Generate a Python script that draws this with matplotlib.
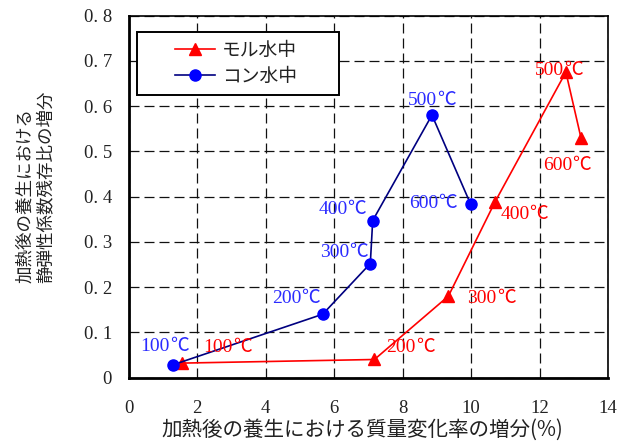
import matplotlib
matplotlib.use("Agg")
import matplotlib.pyplot as plt
from matplotlib.ticker import FixedLocator, FixedFormatter
from matplotlib.offsetbox import TextArea, HPacker, AnnotationBbox
from matplotlib.legend_handler import HandlerLine2D

# --- data -------------------------------------------------------------
temps = ["100℃", "200℃", "300℃", "400℃", "500℃", "600℃"]

# mortar, water-cured
mortar_x = [1.55, 7.18, 9.34, 10.70, 12.77, 13.21]
mortar_y = [0.032, 0.040, 0.180, 0.388, 0.675, 0.530]

# concrete, water-cured
concrete_x = [1.29, 5.67, 7.06, 7.13, 8.86, 9.99]
concrete_y = [0.028, 0.140, 0.252, 0.347, 0.580, 0.383]

series_names = ["モル水中", "コン水中"]

x_ticks = [0, 2, 4, 6, 8, 10, 12, 14]
x_tick_labels = ["0", "2", "4", "6", "8", "10", "12", "14"]
y_ticks = [0, 0.1, 0.2, 0.3, 0.4, 0.5, 0.6, 0.7, 0.8]
y_tick_labels = ["0", "0. 1", "0. 2", "0. 3", "0. 4", "0. 5", "0. 6", "0. 7", "0. 8"]

x_label = "加熱後の養生における質量変化率の増分(%)"
y_label = "加熱後の養生における\n静弾性係数残存比の増分"

# label offsets (points, +y is up) from each marker
mortar_offsets = [(33, 12), (26, 9), (31, -1), (21, -8), (-5, 2), (-10, -19)]
concrete_offsets = [(-6, 14), (-19, 12), (-19, 9), (-22, 9), (0, 11), (-27, 1)]

# --- styles -----------------------------------------------------------
jp_font = ["Noto Sans CJK JP", "DejaVu Sans"]
num_font = ["Liberation Serif", "DejaVu Serif"]
red = "#ff0000"
blue_marker = "#0000ff"
blue_line = "#000080"
blue_text = "#2b2bff"
text_dark = "#222222"

fig = plt.figure(figsize=(6.25, 4.42), dpi=100)
ax = fig.add_axes([128.5 / 625, 1 - 377.6 / 442, (608 - 128.5) / 625, (377.6 - 15.5) / 442])

ax.plot(mortar_x, mortar_y, color=red, lw=1.2, marker="^", ms=9,
        mfc=red, mec=red, label=series_names[0], zorder=3)
ax.plot(concrete_x, concrete_y, color=blue_line, lw=1.2, marker="o", ms=8,
        mfc=blue_marker, mec=blue_marker, label=series_names[1], zorder=3)


def temp_label(text, x, y, offset, color):
    """Serif digits followed by a full-width degree sign."""
    digits, unit = text[:-1], text[-1]
    box = HPacker(children=[
        TextArea(digits, textprops=dict(color=color, fontsize=14, family=num_font)),
        TextArea(unit, textprops=dict(color=color, fontsize=13.5, family=jp_font)),
    ], align="baseline", pad=0, sep=0)
    ab = AnnotationBbox(box, (x, y), xybox=offset, xycoords="data",
                        boxcoords="offset points", frameon=False,
                        box_alignment=(0.5, 0.5), pad=0, zorder=4)
    ax.add_artist(ab)


for t, x, y, off in zip(temps, mortar_x, mortar_y, mortar_offsets):
    temp_label(t, x, y, off, red)
for t, x, y, off in zip(temps, concrete_x, concrete_y, concrete_offsets):
    temp_label(t, x, y, off, blue_text)

ax.set_xlim(0, 14)
ax.set_ylim(0, 0.8)
ax.xaxis.set_major_locator(FixedLocator(x_ticks))
ax.xaxis.set_major_formatter(FixedFormatter(x_tick_labels))
ax.yaxis.set_major_locator(FixedLocator(y_ticks))
ax.yaxis.set_major_formatter(FixedFormatter(y_tick_labels))

ax.grid(True, color="#111111", linestyle=(0, (8, 4)), linewidth=0.9)
ax.set_axisbelow(True)
ax.tick_params(axis="both", direction="in", length=0, labelsize=13.5)
ax.tick_params(axis="x", pad=16)
ax.tick_params(axis="y", pad=12)
for lab in ax.get_xticklabels() + ax.get_yticklabels():
    lab.set_family(num_font)
    lab.set_color(text_dark)

for side in ["top", "right"]:
    ax.spines[side].set_linewidth(1.2)
for side in ["left", "bottom"]:
    ax.spines[side].set_linewidth(2.0)

# legend: wide box, handles indented from the left edge
leg_fs = 13.5
fs_px = leg_fs * 100 / 72
ax_w, ax_h = 479.5, 362.1
x0 = (137 - 128.5) / ax_w
w = (339 - 137) / ax_w
ytop = 1 - (32 - 15.5) / ax_h
borderpad = 0.42
hstart = 137 + borderpad * fs_px
handler = HandlerLine2D(xpad=(175 - hstart) / fs_px)
leg = ax.legend(loc="upper left", bbox_to_anchor=(x0, ytop - 0.01, w, 0.01),
                mode="expand", handler_map={ln: handler for ln in ax.get_lines()},
                prop={"family": jp_font, "size": leg_fs}, frameon=True, fancybox=False,
                edgecolor="black", framealpha=1,
                handlelength=(215 - hstart) / fs_px,
                borderpad=borderpad, labelspacing=0.27, handletextpad=0.37,
                borderaxespad=0)
leg.get_frame().set_linewidth(1.4)
for txt in leg.get_texts():
    txt.set_color(text_dark)

fig.text(362 / 625, 1 - 430 / 442, x_label, ha="center", va="center",
         fontsize=14.8, family=jp_font, color=text_dark)
fig.text(35.5 / 625, 1 - 283 / 442, y_label, ha="center", va="bottom",
         rotation=90, multialignment="left", linespacing=1.2,
         fontsize=12.6, family=jp_font, color=text_dark)

fig.savefig("out.png", dpi=100)
